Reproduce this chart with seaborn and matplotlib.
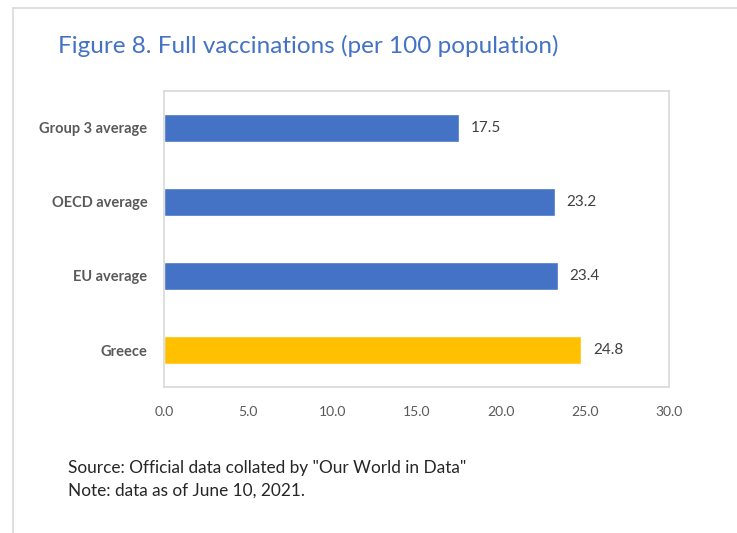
import matplotlib
matplotlib.use("Agg")
import matplotlib.pyplot as plt
import seaborn as sns
import pandas as pd
from matplotlib.lines import Line2D

categories = ["Group 3 average", "OECD average", "EU average", "Greece"]
values = [17.5, 23.2, 23.4, 24.8]
bar_colors = ["#4472C4", "#4472C4", "#4472C4", "#FFC000"]
x_ticks = [0, 5, 10, 15, 20, 25, 30]

title = "Figure 8. Full vaccinations (per 100 population)"
source_lines = ['Source: Official data collated by "Our World in Data"',
                "Note: data as of June 10, 2021."]

sns.set_style("white")
plt.rcParams["font.family"] = ["Lato", "DejaVu Sans"]

df = pd.DataFrame({"category": categories, "value": values})

fig = plt.figure(figsize=(7.37, 5.33), dpi=100)
ax = fig.add_axes([164 / 737, 1 - 387 / 533, (669 - 164) / 737, 296 / 533])

sns.barplot(data=df, y="category", x="value", hue="category",
            palette=bar_colors, saturation=1, width=0.37,
            legend=False, ax=ax)

for cont in ax.containers:
    ax.bar_label(cont, fmt="%.1f", padding=8.5, fontsize=11, color="#404040")

ax.set_xlim(0, 30)
ax.set_xticks(x_ticks)
ax.set_xticklabels([f"{t:.1f}" for t in x_ticks])
ax.set_xlabel("")
ax.set_ylabel("")
ax.tick_params(axis="x", length=0, pad=14, labelsize=10, labelcolor="#595959")
ax.tick_params(axis="y", length=0, pad=12, labelsize=10.5, labelcolor="#595959")
for lab in ax.get_yticklabels():
    lab.set_fontweight("bold")
for sp in ax.spines.values():
    sp.set_visible(True)
    sp.set_color("#D9D9D9")
    sp.set_linewidth(1.2)

# outer frame of the chart area
fig.add_artist(Line2D([13 / 737, 1], [1 - 8 / 533, 1 - 8 / 533],
                      color="#D9D9D9", lw=1.2, transform=fig.transFigure))
fig.add_artist(Line2D([13 / 737, 13 / 737], [0, 1 - 8 / 533],
                      color="#D9D9D9", lw=1.2, transform=fig.transFigure))

fig.text(58 / 737, 1 - 46 / 533, title, fontsize=17.5, color="#4472C4",
         va="center", ha="left")
fig.text(68 / 737, 1 - 468 / 533, source_lines[0], fontsize=12.4,
         color="#262626", va="center")
fig.text(68 / 737, 1 - 491 / 533, source_lines[1], fontsize=12.4,
         color="#262626", va="center")

fig.savefig("out.png", dpi=100)
